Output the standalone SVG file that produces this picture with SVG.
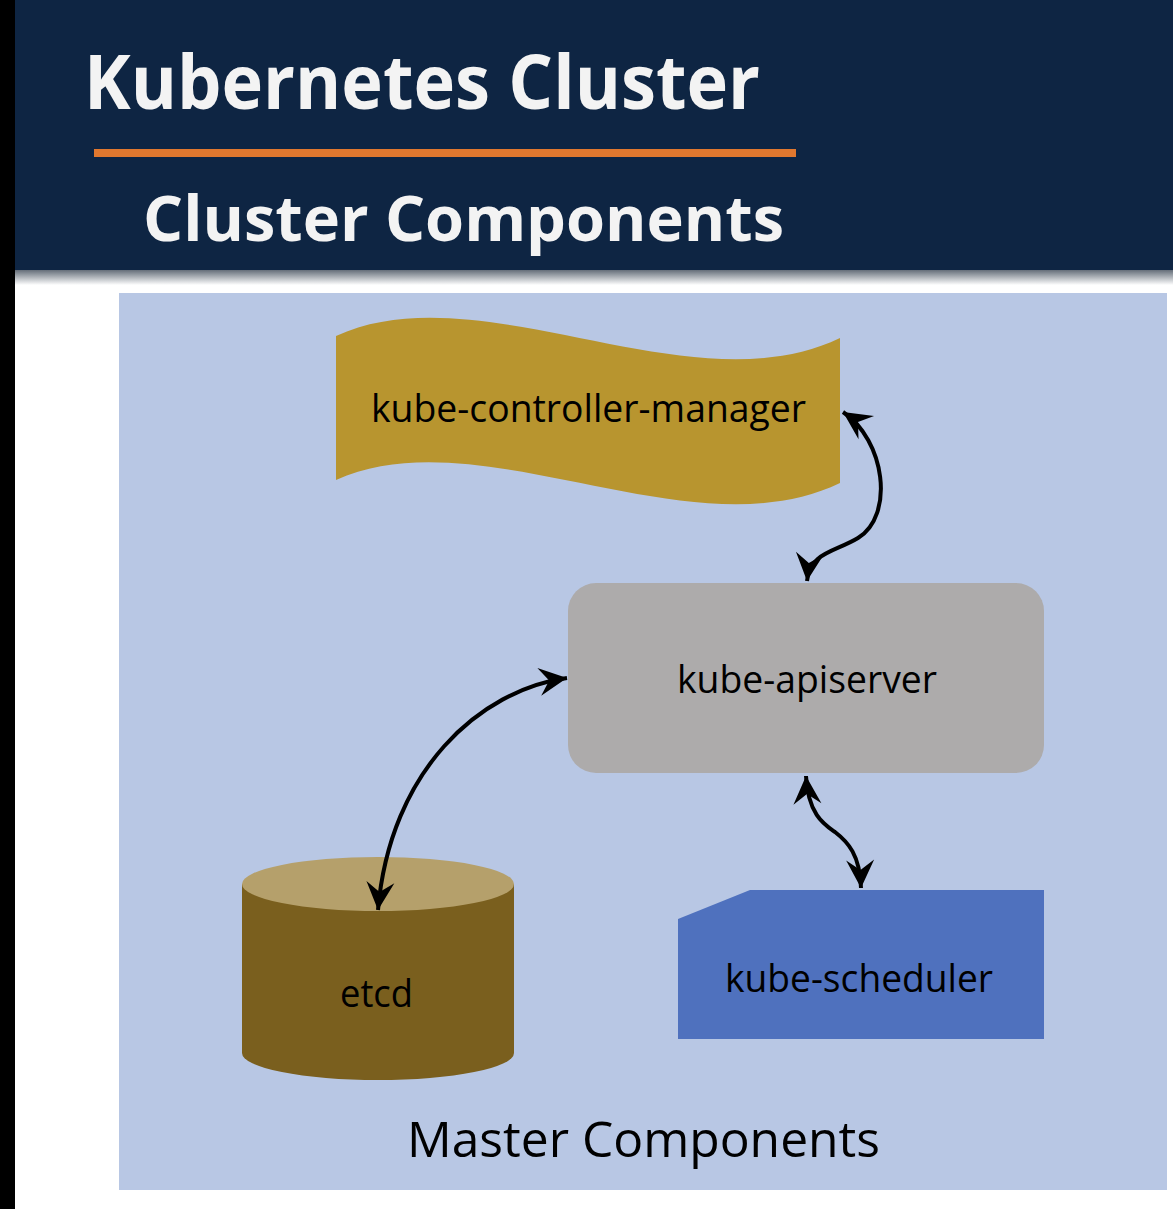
<svg xmlns="http://www.w3.org/2000/svg" width="1173" height="1209" viewBox="0 0 1173 1209">
<style>
.lbl{font-family:"Open Sans","Liberation Sans",sans-serif;fill:#000;font-size:38px}
.big{font-size:50px}
.hdr{font-family:"Open Sans","Liberation Sans",sans-serif;font-weight:bold;fill:#f3f3f3}
.t1{font-size:76px}
.t2{font-size:62px}
.con{fill:none;stroke:#000;stroke-width:4;marker-start:url(#ah);marker-end:url(#ah)}
</style>
<defs>
<marker id="ah" markerUnits="userSpaceOnUse" markerWidth="32" markerHeight="32" refX="29" refY="16" orient="auto-start-reverse" overflow="visible">
<path d="M29,16 L1,2 L11,16 L1,30 Z" fill="#000"/>
</marker>
<linearGradient id="sh" x1="0" y1="0" x2="0" y2="1">
<stop offset="0" stop-color="#5a6470"/>
<stop offset="1" stop-color="#ffffff"/>
</linearGradient>
</defs>
<rect x="0" y="0" width="1173" height="1209" fill="#ffffff"/>
<rect x="15" y="269" width="1158" height="16" fill="url(#sh)"/>
<rect x="15" y="0" width="1158" height="270" fill="#0e2543"/>
<rect x="0" y="0" width="15" height="1209" fill="#000"/>
<g id="header">
<text class="hdr t1" x="84" y="109" textLength="676" lengthAdjust="spacingAndGlyphs">Kubernetes Cluster</text>
<rect x="94" y="149" width="702" height="8" fill="#e0782f"/>
<text class="hdr t2" x="143" y="241" textLength="641" lengthAdjust="spacingAndGlyphs">Cluster Components</text>
</g>
<g id="panel">
<rect x="119" y="293" width="1048" height="897" fill="#b8c7e4"/>
<text class="lbl big" x="407" y="1157" textLength="473" lengthAdjust="spacingAndGlyphs">Master Components</text>
</g>
<g id="controller-manager">
<path d="M336,336 C480,270 690,410 840,338 L840,483 C690,555 480,415 336,480 Z" fill="#b8952f"/>
<text class="lbl" x="371" y="422" textLength="435" lengthAdjust="spacingAndGlyphs">kube-controller-manager</text>
</g>
<g id="apiserver">
<rect x="568" y="583" width="476" height="190" rx="28" ry="28" fill="#adabab"/>
<text class="lbl" x="677" y="693" textLength="260" lengthAdjust="spacingAndGlyphs">kube-apiserver</text>
</g>
<g id="etcd">
<path d="M242,884 L242,1053 A136,27 0 0 0 514,1053 L514,884 Z" fill="#7a5f1e"/>
<ellipse cx="378" cy="884" rx="136" ry="27" fill="#b5a06b"/>
<text class="lbl" x="340" y="1007" textLength="73" lengthAdjust="spacingAndGlyphs">etcd</text>
</g>
<g id="scheduler">
<path d="M678,919 L750,890 L1044,890 L1044,1039 L678,1039 Z" fill="#4f71be"/>
<text class="lbl" x="725" y="992" textLength="268" lengthAdjust="spacingAndGlyphs">kube-scheduler</text>
</g>
<g id="connectors">
<path class="con" d="M843,412 C885,440 895,515 858,538 C835,552 810,552 807,581"/>
<path class="con" d="M378,910 C390,770 480,690 567,678"/>
<path class="con" d="M806,776 C808,815 825,825 835,832 C848,842 860,855 861,888"/>
</g>
</svg>
